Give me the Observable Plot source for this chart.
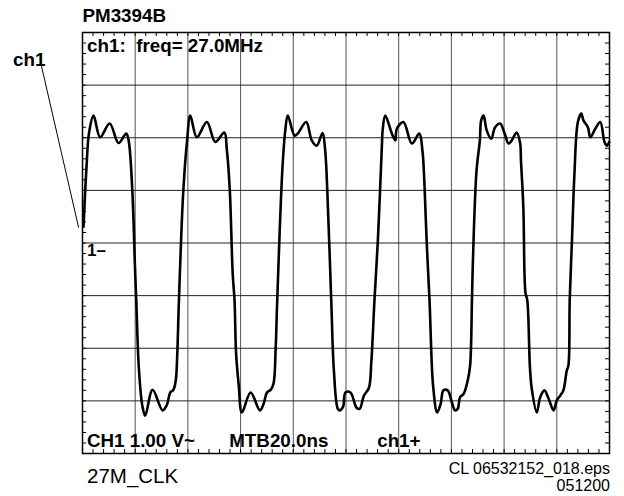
<!DOCTYPE html>
<html><head><meta charset="utf-8">
<script src="https://cdn.jsdelivr.net/npm/d3@7"></script>
<script src="https://cdn.jsdelivr.net/npm/@observablehq/plot@0.6"></script>
<style>
body{margin:0;background:#fff}
svg text{white-space:pre}
</style>
</head><body><div id="chart"></div>
<script>
// Time (ns) and voltage (V) samples
const timeNs = [0.4,1.5,2.5,4.2,6.7,10.3,13.7,16.6,17.5,18.9,19.9,20.4,21.4,22.7,23.8,26.6,30.4,32.0,33.3,34.5,35.4,35.9,36.6,38.2,39.7,40.9,43.4,47.2,50.4,53.8,54.8,55.9,57.0,57.7,58.3,59.3,60.5,63.8,67.3,68.7,70.0,71.4,72.5,73.3,73.9,75.8,76.9,77.9,80.5,81.7,84.9,87.0,88.9,91.1,92.1,92.9,94.4,95.4,96.9,97.7,98.9,99.8,101.7,104.0,105.2,106.8,108.7,109.6,110.8,112.1,113.7,113.9,114.9,117.4,118.7,119.3,121.8,125.0,127.8,129.0,129.8,130.6,131.7,133.1,134.6,135.9,137.0,138.6,140.2,141.4,142.4,143.3,144.6,146.2,147.1,147.8,148.1,149.5,150.8,151.3,152.2,153.4,155.1,156.6,158.5,160.2,161.7,162.9,164.8,166.1,166.4,167.3,168.1,168.8,169.8,170.5,172.4,173.7,175.3,176.9,178.8,180.0,181.3,182.5,183.8,184.4,184.9,185.8,186.7,188.0,189.3,190.1,191.8,192.7,194.6,196.5,198.1,199.0,199.9];
const volts = [0.31,1.42,2.10,2.42,2.01,2.27,1.90,2.08,1.95,1.00,-0.43,-1.09,-2.39,-3.09,-3.28,-2.79,-3.18,-3.08,-2.84,-2.79,-2.61,-2.20,-1.09,0.94,1.95,2.42,2.01,2.30,1.92,2.10,1.76,1.00,-0.58,-1.09,-2.11,-2.71,-3.22,-2.84,-3.18,-3.06,-2.84,-2.79,-2.67,-2.01,-1.09,1.35,2.11,2.42,2.04,2.08,2.30,1.95,1.85,2.09,1.76,1.00,-1.09,-2.42,-3.15,-3.18,-3.11,-2.84,-2.84,-3.13,-3.15,-2.90,-2.75,-2.27,-1.09,0.05,1.95,2.14,2.42,2.08,1.95,2.17,2.30,1.89,2.08,1.76,1.09,0.05,-1.09,-2.74,-3.22,-3.06,-2.80,-2.80,-3.03,-3.18,-3.15,-2.93,-2.87,-2.61,-2.33,-1.09,-0.46,1.35,1.95,2.33,2.42,2.14,1.98,2.20,2.27,2.08,1.89,1.95,2.10,1.89,1.57,0.68,-0.94,-1.09,-2.36,-2.77,-3.22,-2.93,-2.80,-2.96,-3.18,-2.99,-2.90,-2.80,-2.42,-2.33,-1.09,0.11,1.32,2.30,2.46,2.33,2.20,2.01,2.17,2.30,1.92,1.85,1.92];

// Screen grid: 10 x 20 ns, 8 x 1 V
const xDomain = [0, 200];
const yDomain = [-4, 4];
const xGrid = [0,20,40,60,80,100,120,140,160,180,200];
const yGrid = [-4,-3,-2,-1,0,1,2,3,4];
const xMinor = d3.range(0, 200.01, 4);
const yMinor = d3.range(-4, 4.01, 0.2);

// Pointer from the "ch1" label to the trace start
const pointerT = [-15.6, -1.5];
const pointerV = [3.37, 0.30];

const trace = timeNs.map((t, i) => ({t, v: volts[i]}));
const pointer = pointerT.map((t, i) => ({t, v: pointerV[i]}));

const W = 624, H = 496;
const mL = 82, mR = 15, mT = 32, mB = 43;
const iW = W - mL - mR, iH = H - mT - mB;
const tick = 4;
const bold = {fontFamily: "Liberation Sans, Arial, sans-serif", fontWeight: "bold", fill: "black", stroke: "none"};
const reg = {fontFamily: "Liberation Sans, Arial, sans-serif", fontWeight: "normal", fill: "black", stroke: "none"};
const B = 18.8;

const chart = Plot.plot({
  width: W, height: H,
  marginLeft: mL, marginRight: mR, marginTop: mT, marginBottom: mB,
  style: {background: "#fff", overflow: "visible"},
  x: {domain: xDomain, axis: null},
  y: {domain: yDomain, axis: null},
  marks: [
    Plot.ruleX(xGrid, {stroke: "#555", strokeWidth: 1}),
    Plot.ruleY(yGrid, {stroke: "#222", strokeWidth: 1}),
    // minor ticks on the four edges
    Plot.ruleX(xMinor, {insetBottom: iH - tick, stroke: "black"}),
    Plot.ruleX(xMinor, {insetTop: iH - tick, stroke: "black"}),
    Plot.ruleY(yMinor, {insetRight: iW - tick, stroke: "black"}),
    Plot.ruleY(yMinor, {insetLeft: iW - tick, stroke: "black"}),
    Plot.frame({stroke: "black", strokeWidth: 1.5}),
    Plot.line(trace, {x: "t", y: "v", curve: "catmull-rom", stroke: "black", strokeWidth: 2.6, strokeLinejoin: "round", strokeLinecap: "round"}),
    Plot.line(pointer, {x: "t", y: "v", stroke: "black", strokeWidth: 1}),
    Plot.text(["PM3394B"], {...bold, frameAnchor: "top-left", textAnchor: "start", lineAnchor: "bottom", dx: 0, dy: -10.3, fontSize: B}),
    Plot.text(["ch1"], {...bold, frameAnchor: "top-left", textAnchor: "start", lineAnchor: "bottom", dx: -69.4, dy: 33.7, fontSize: B}),
    Plot.text(["ch1:  freq= 27.0MHz"], {...bold, frameAnchor: "top-left", textAnchor: "start", lineAnchor: "bottom", dx: 4.6, dy: 19.7, fontSize: B}),
    Plot.text(["1–"], {...bold, frameAnchor: "top-left", textAnchor: "start", lineAnchor: "bottom", dx: 4.6, dy: 223.7, fontSize: 17}),
    Plot.text(["CH1 1.00 V~"], {...bold, frameAnchor: "bottom-left", textAnchor: "start", lineAnchor: "bottom", dx: 4.4, dy: -6.3, fontSize: B}),
    Plot.text(["MTB20.0ns"], {...bold, frameAnchor: "bottom-left", textAnchor: "start", lineAnchor: "bottom", dx: 146.7, dy: -6.3, fontSize: B}),
    Plot.text(["ch1+"], {...bold, frameAnchor: "bottom-left", textAnchor: "start", lineAnchor: "bottom", dx: 294.7, dy: -6.3, fontSize: B}),
    Plot.text(["27M_CLK"], {...reg, frameAnchor: "bottom-left", textAnchor: "start", lineAnchor: "bottom", dx: 4.5, dy: 29.7, fontSize: 20.5}),
    Plot.text(["CL 06532152_018.eps"], {...reg, frameAnchor: "bottom-right", textAnchor: "end", lineAnchor: "bottom", dx: 0.5, dy: 20.3, fontSize: 16}),
    Plot.text(["051200"], {...reg, frameAnchor: "bottom-right", textAnchor: "end", lineAnchor: "bottom", dx: 0.5, dy: 37.7, fontSize: 16})
  ]
});
document.getElementById("chart").appendChild(chart);
</script>
</body></html>
